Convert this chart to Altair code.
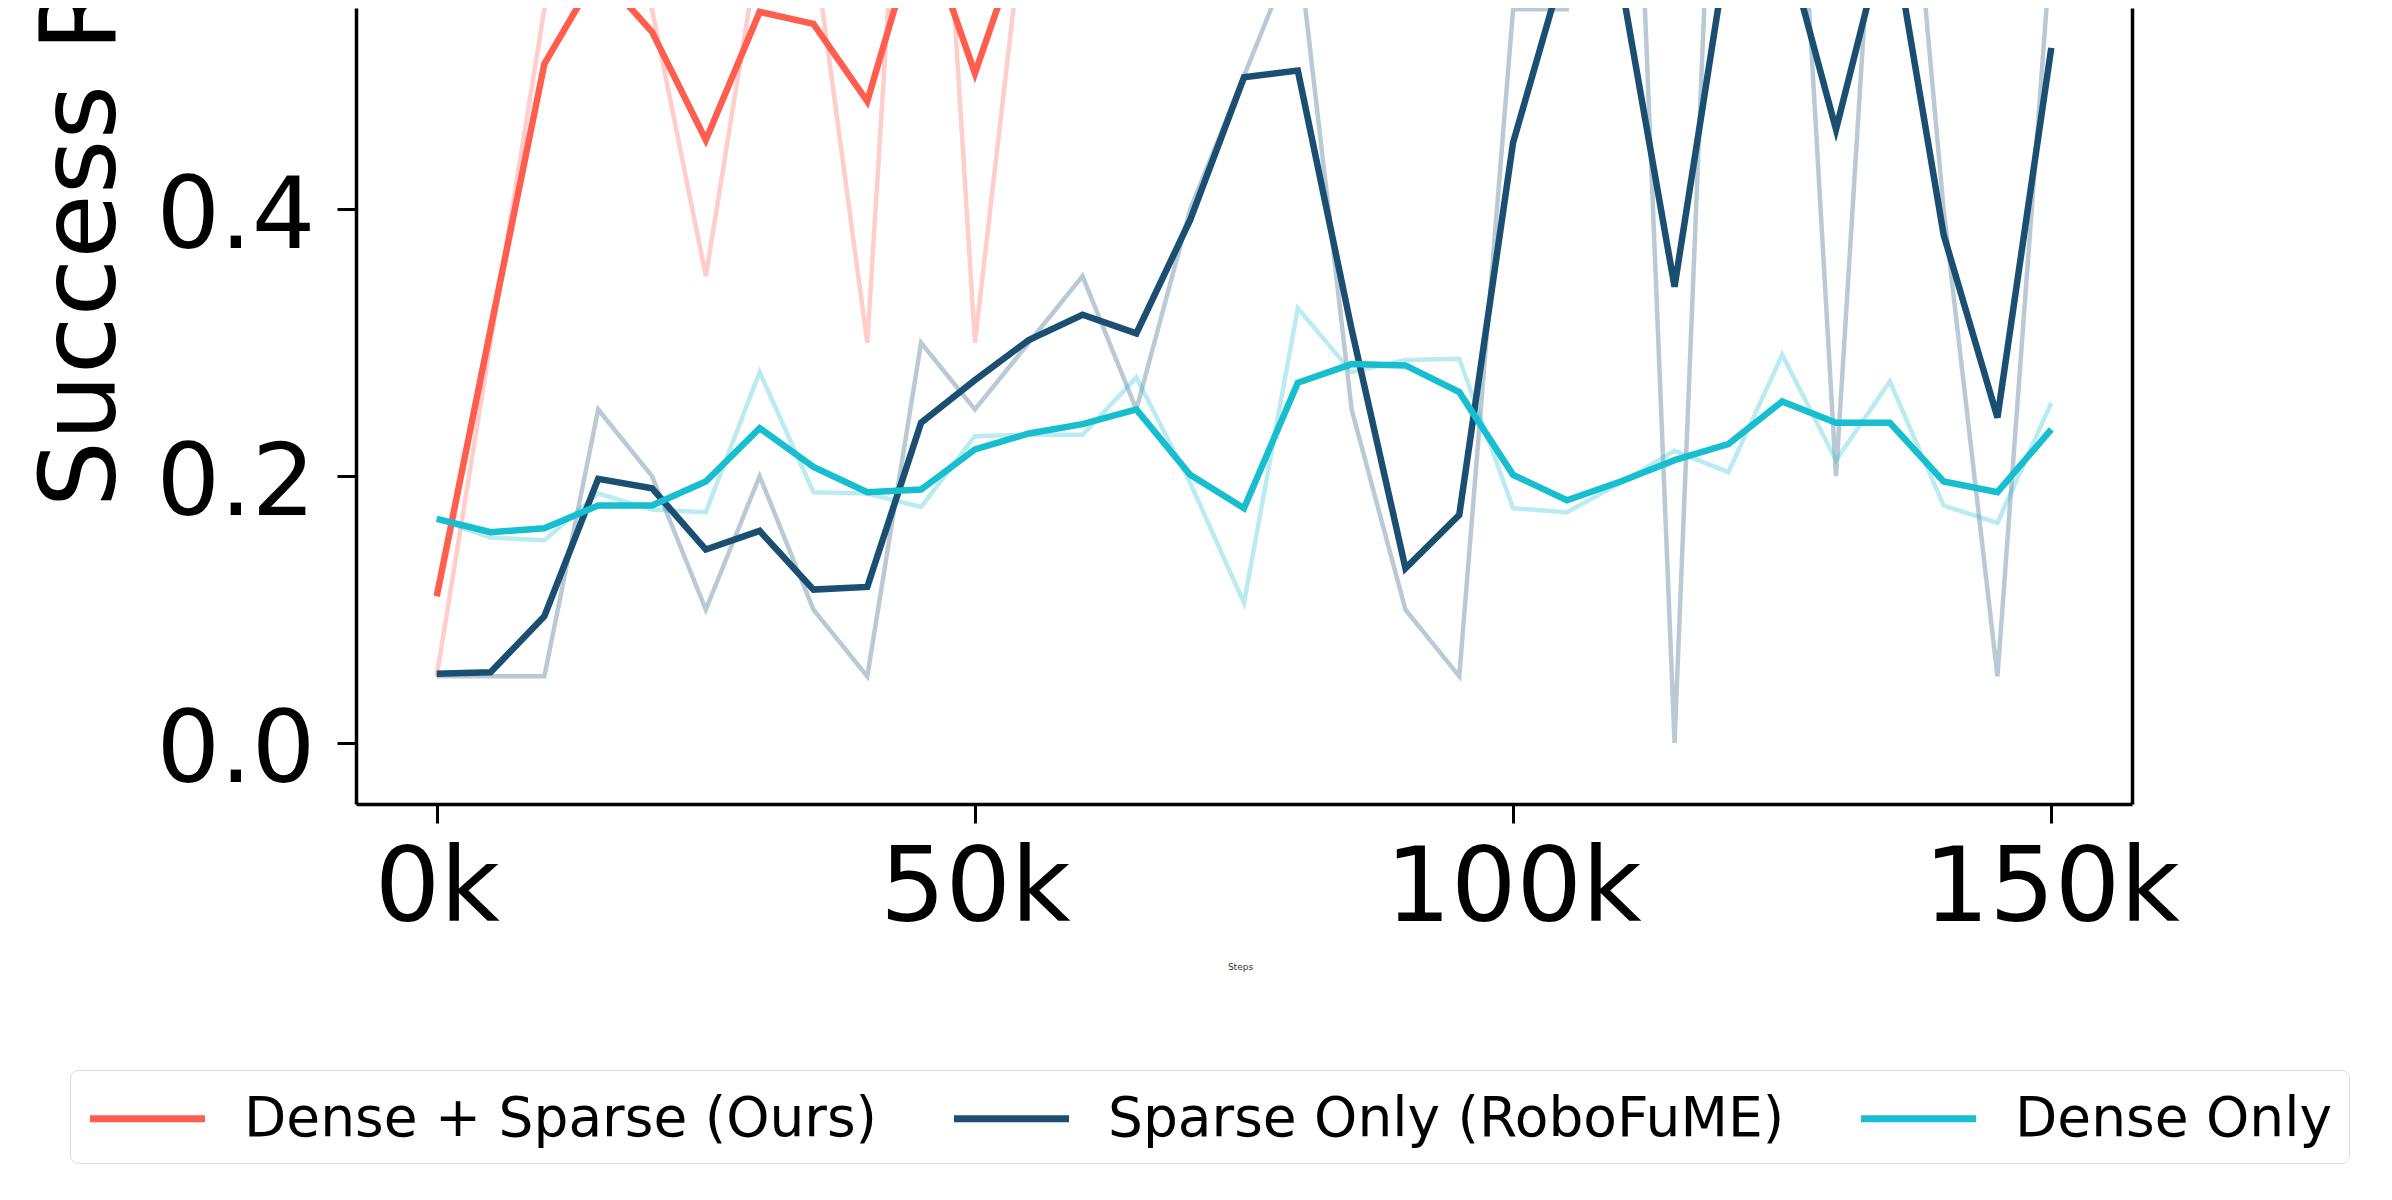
import altair as alt
import pandas as pd

steps = [0, 5000, 10000, 15000, 20000, 25000, 30000, 35000, 40000, 45000, 50000, 55000,
         60000, 65000, 70000, 75000, 80000, 85000, 90000, 95000, 100000, 105000, 110000,
         115000, 120000, 125000, 130000, 135000, 140000, 145000, 150000]

methods = ["Dense + Sparse (Ours)", "Sparse Only (RoboFuME)", "Dense Only"]
colors = ["#FF5E4E", "#1B4F72", "#17BECF"]

# raw (faint) success rates
ours_raw = [0.05, 0.30, 0.55, 0.65, 0.55, 0.35, 0.60, 0.60, 0.30, 0.95, 0.30, 0.65,
            0.80, 0.75, 0.85, 0.80, 0.90, 0.85, 0.75, 0.90, 0.90, 0.80, 0.95,
            0.85, 0.95, 0.90, 0.90, 0.95, 0.85, 0.95, 0.95]
sparse_raw = [0.05, 0.05, 0.05, 0.25, 0.20, 0.10, 0.20, 0.10, 0.05, 0.30, 0.25, 0.30,
              0.35, 0.25, 0.40, 0.50, 0.60, 0.25, 0.10, 0.05, 0.55, 0.55, 1.00,
              0.00, 1.00, 0.90, 0.20, 0.85, 0.40, 0.05, 0.60]
dense_raw = [0.168, 0.154, 0.152, 0.187, 0.175, 0.173, 0.278, 0.188, 0.187, 0.177, 0.230, 0.231,
             0.231, 0.274, 0.195, 0.105, 0.326, 0.278, 0.287, 0.288, 0.176, 0.173, 0.195,
             0.219, 0.203, 0.291, 0.212, 0.271, 0.178, 0.165, 0.255]

# smoothed (bold) success rates
ours_smooth = [0.110, 0.310, 0.509, 0.578, 0.533, 0.452, 0.548, 0.539, 0.481, 0.618, 0.502, 0.619,
               0.66, 0.70, 0.72, 0.75, 0.77, 0.79, 0.78, 0.80, 0.83, 0.82, 0.85,
               0.84, 0.87, 0.86, 0.87, 0.89, 0.87, 0.89, 0.91]
sparse_smooth = [0.052, 0.053, 0.095, 0.198, 0.191, 0.145, 0.159, 0.115, 0.117, 0.240, 0.272, 0.302,
                 0.321, 0.307, 0.392, 0.499, 0.504, 0.310, 0.131, 0.171, 0.450, 0.590, 0.572,
                 0.342, 0.600, 0.610, 0.460, 0.620, 0.381, 0.244, 0.521]
dense_smooth = [0.168, 0.158, 0.161, 0.178, 0.178, 0.196, 0.236, 0.207, 0.188, 0.190, 0.220, 0.232,
                0.239, 0.250, 0.201, 0.176, 0.270, 0.284, 0.283, 0.263, 0.201, 0.182, 0.196,
                0.212, 0.224, 0.256, 0.240, 0.240, 0.196, 0.188, 0.235]

x_ticks = [0, 50000, 100000, 150000]
y_ticks = [0.0, 0.2, 0.4]


def long(series_list):
    rows = []
    for m, vals in zip(methods, series_list):
        for s, v in zip(steps, vals):
            rows.append({"step": s, "value": v, "method": m})
    return pd.DataFrame(rows)


df_raw = long([ours_raw, sparse_raw, dense_raw])
df_smooth = long([ours_smooth, sparse_smooth, dense_smooth])

xscale = alt.Scale(domain=[-7500, 157500], nice=False, zero=False)
yscale = alt.Scale(domain=[-0.0457, 0.5509], nice=False, zero=False)
cscale = alt.Scale(domain=methods, range=colors)

x_axis = alt.Axis(
    values=x_ticks, labelExpr="round(datum.value / 1000) + 'k'",
    title="Steps", titleFontSize=9, titleFontWeight="normal", titleColor="#333333",
    titleY=162, titleX=884, titleBaseline="middle",
    labelFontSize=103, labelPadding=16, labelColor="black", labelLimit=600,
    tickSize=19, tickWidth=3, tickColor="black",
    domainColor="black", domainWidth=3.5, grid=False,
)

legend = alt.Legend(
    title=None, orient="none", legendX=-286, legendY=1062,
    direction="horizontal", columns=3,
    symbolType="M-2,0L2,0", symbolSize=3306, symbolStrokeWidth=7, symbolOpacity=1,
    symbolOffset=29,
    labelFontSize=55, labelOffset=64, labelLimit=1200, labelColor="black",
    columnPadding=62, padding=16,
    strokeColor="#dddddd", fillColor="white", cornerRadius=8,
)

faint = alt.Chart(df_raw).mark_line(strokeWidth=4.5, opacity=0.3, clip=True).encode(
    x=alt.X("step:Q", scale=xscale, axis=x_axis),
    y=alt.Y("value:Q", scale=yscale, axis=None),
    color=alt.Color("method:N", scale=cscale, legend=legend),
)

bold = alt.Chart(df_smooth).mark_line(strokeWidth=6.5, clip=True).encode(
    x=alt.X("step:Q", scale=xscale, axis=x_axis),
    y=alt.Y(
        "value:Q", scale=yscale,
        axis=alt.Axis(
            values=y_ticks, format=".1f",
            title="Success Rate", titleFontSize=105, titleFontWeight="normal", titleColor="black",
            titleAngle=270, titleAlign="left", titleBaseline="alphabetic",
            titleX=-242, titleY=499,
            labelFontSize=100, labelPadding=22, labelColor="black",
            labelBaseline="alphabetic", labelOffset=38,
            tickSize=19, tickWidth=3, tickColor="black",
            domainColor="black", domainWidth=3.5, grid=False,
        ),
    ),
    color=alt.Color("method:N", scale=cscale, legend=legend),
)

right_spine = alt.Chart(df_smooth).mark_line(opacity=0).encode(
    x=alt.X("step:Q", scale=xscale, axis=x_axis),
    y=alt.Y(
        "value:Q", scale=yscale,
        axis=alt.Axis(orient="right", labels=False, ticks=False, title=None,
                      domainColor="black", domainWidth=3.5, grid=False),
    ),
)

chart = alt.layer(faint, bold, right_spine).resolve_axis(y="independent").properties(
    width=1776,
    height=796,
    padding={"left": 348, "top": 0, "right": 252, "bottom": 388},
    autosize=alt.AutoSizeParams(type="none"),
).configure(font="DejaVu Sans").configure_view(strokeWidth=0)

chart.save("out.html", embed_options={"renderer": "svg", "actions": False})
